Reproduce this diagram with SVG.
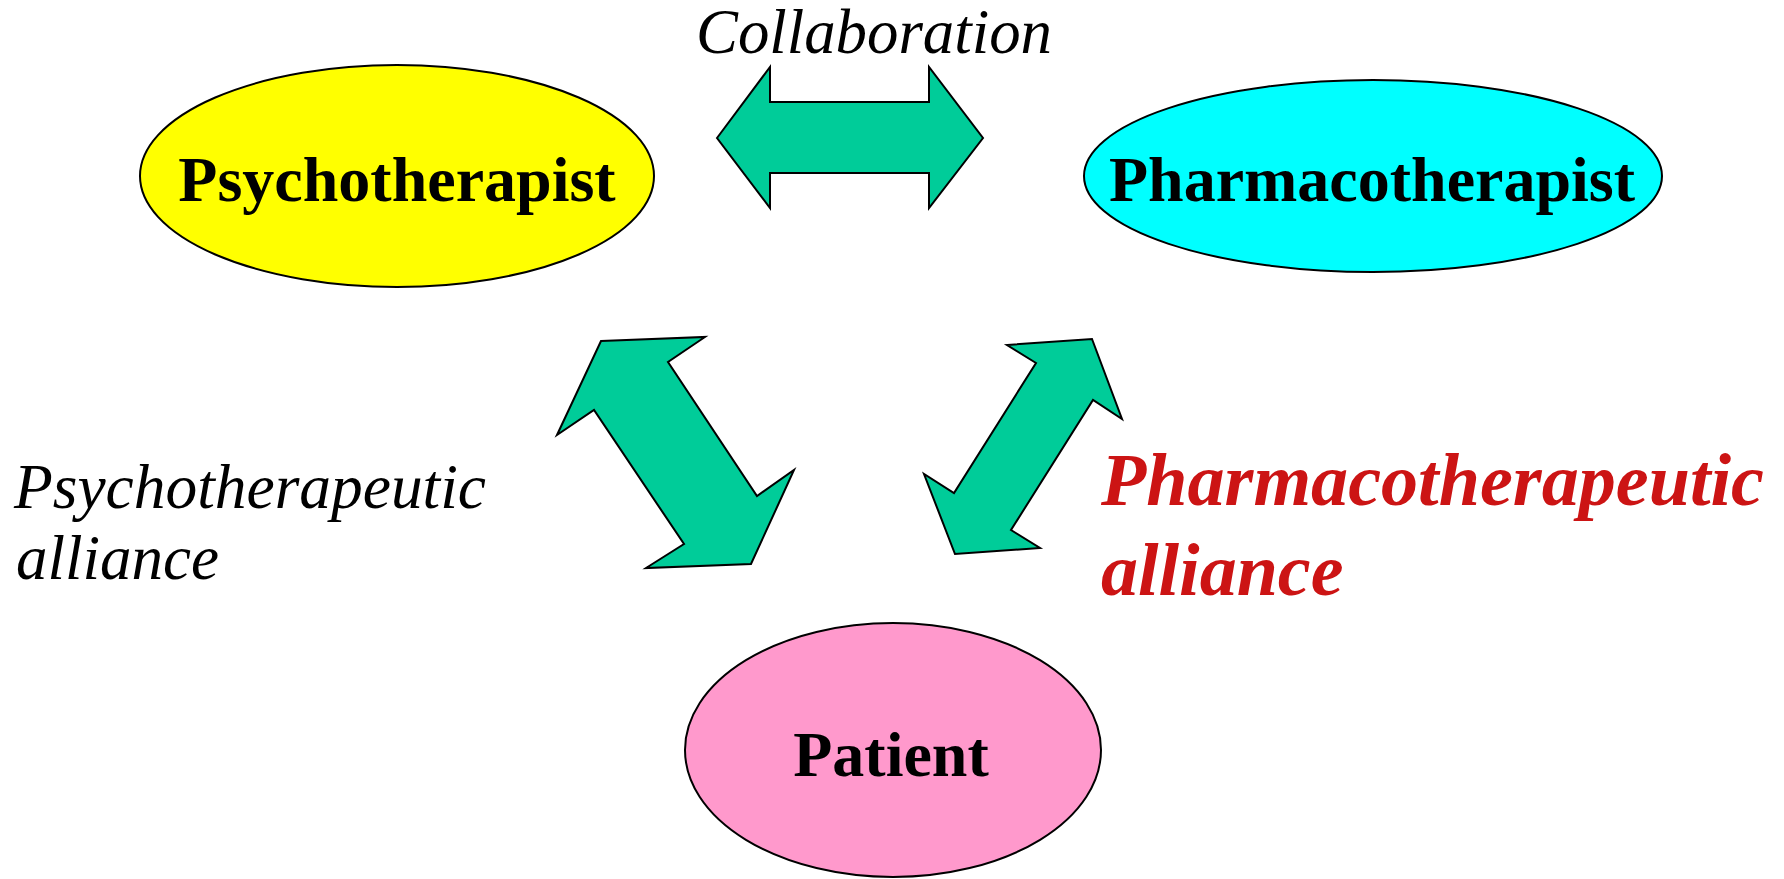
<svg xmlns="http://www.w3.org/2000/svg" width="1784" height="879" viewBox="0 0 1784 879">
  <style>
    .node { stroke: #000; stroke-width: 2; }
    .nlabel { font-family: "Liberation Serif", "Times New Roman", serif; font-weight: bold; font-size: 64px; fill: #000; text-anchor: middle; }
    .arrow { fill: #00CC99; stroke: #000; stroke-width: 2; stroke-linejoin: miter; }
    .elabel { font-family: "Liberation Serif", "Times New Roman", serif; font-style: italic; font-size: 63px; fill: #000; }
    .elabel-red { font-family: "Liberation Serif", "Times New Roman", serif; font-style: italic; font-weight: bold; font-size: 74px; fill: #CC1414; }
  </style>
  <rect width="1784" height="879" fill="#fff"/>

  <g id="connectors">
    <polygon class="arrow" points="717,138 770,67 770,102 929,102 929,67 983,138 929,208 929,173 770,173 770,208"/>
    <polygon class="arrow" points="601,341 705,337 668,362 757,496 794,470 751,564 646,568 684,544 594,410 557,435"/>
    <polygon class="arrow" points="1092,339 1122,419 1093,400 1011,530 1040,548 955,554 924,474 954,493 1036,363 1007,345"/>
    <text class="elabel" x="696" y="53" textLength="356" lengthAdjust="spacingAndGlyphs">Collaboration</text>
    <text class="elabel" x="14" y="508" textLength="472" lengthAdjust="spacingAndGlyphs">Psychotherapeutic</text>
    <text class="elabel" x="16" y="579">alliance</text>
    <text class="elabel-red" x="1101" y="505" textLength="663" lengthAdjust="spacingAndGlyphs">Pharmacotherapeutic</text>
    <text class="elabel-red" x="1101" y="595">alliance</text>
  </g>

  <g id="psychotherapist">
    <ellipse class="node" cx="397" cy="176" rx="257" ry="111" fill="#FFFF00"/>
    <text class="nlabel" x="397" y="201">Psychotherapist</text>
  </g>

  <g id="pharmacotherapist">
    <ellipse class="node" cx="1373" cy="176" rx="289" ry="96" fill="#00FFFF"/>
    <text class="nlabel" x="1372" y="201">Pharmacotherapist</text>
  </g>

  <g id="patient">
    <ellipse class="node" cx="893" cy="750" rx="208" ry="127" fill="#FF99CC"/>
    <text class="nlabel" x="891" y="776">Patient</text>
  </g>
</svg>
